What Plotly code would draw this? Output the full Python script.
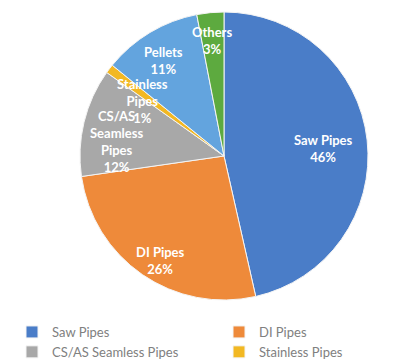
import plotly.graph_objects as go

labels = ["Saw Pipes", "DI Pipes", "CS/AS Seamless Pipes", "Stainless Pipes", "Pellets", "Others"]
values = [46, 26, 12, 1, 11, 3]
display_labels = ["Saw Pipes", "DI Pipes", "CS/AS<br>Seamless<br>Pipes", "Stainless<br>Pipes", "Pellets", "Others"]
colors = ["#4A7DC8", "#EE8A3A", "#A8A8A8", "#F2B823", "#63A4DE", "#5DAA3F"]

# label placement (pixel centres of the in-slice labels)
label_px = [(323, 148), (160, 260), (116, 141), (142, 101), (163, 60), (212, 41)]

W, H = 416, 362

fig = go.Figure(go.Pie(
    labels=labels,
    values=values,
    textinfo="none",
    sort=False,
    direction="clockwise",
    rotation=0,
    marker=dict(colors=colors, line=dict(color="#F4F4F4", width=1)),
    domain=dict(x=[80/W, 368/W], y=[62/H, 350/H]),
    hoverinfo="label+percent",
))

for d, v, (px, py) in zip(display_labels, values, label_px):
    fig.add_annotation(
        x=px / W, y=1 - py / H, xref="paper", yref="paper",
        text=f"{d}<br>{v}%", showarrow=False,
        xanchor="center", yanchor="middle", align="center",
        font=dict(family="Lato", size=13, color="#FFFFFF", weight="bold"),
    )

fig.update_layout(
    width=W, height=H,
    margin=dict(l=0, r=0, t=0, b=0, autoexpand=False),
    paper_bgcolor="#FFFFFF",
    plot_bgcolor="#FFFFFF",
    showlegend=True,
    legend=dict(
        orientation="h",
        x=12/W, y=1 - 317/H, xanchor="left", yanchor="top",
        entrywidth=162, entrywidthmode="pixels",
        font=dict(family="Lato", size=13, color="#808080"),
        tracegroupgap=0,
    ),
)

fig.write_html("out.html")
